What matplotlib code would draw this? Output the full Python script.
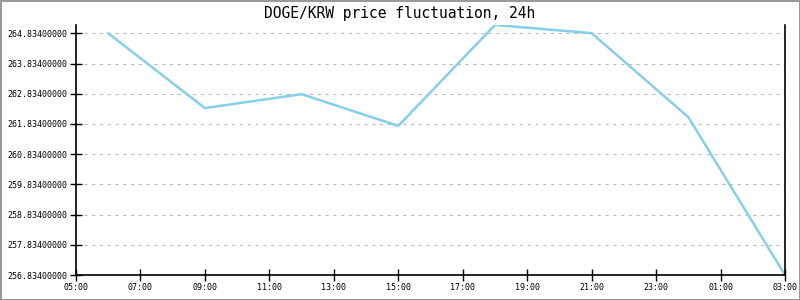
import numpy as np
import pandas as pd
import matplotlib
matplotlib.use("Agg")
import matplotlib.pyplot as plt
import matplotlib.dates as mdates

# data
times = ["2024-01-01 06:00", "2024-01-01 09:00", "2024-01-01 12:00", "2024-01-01 15:00",
         "2024-01-01 18:00", "2024-01-01 21:00", "2024-01-02 00:00", "2024-01-02 03:00"]
prices = [264.834, 262.36, 262.82, 261.77, 265.11, 264.84, 262.06, 256.834]
yticks = [256.834 + i for i in range(9)]
x_start, x_end = "2024-01-01 05:00", "2024-01-02 03:00"

t = pd.to_datetime(times)

fig = plt.figure(figsize=(8, 3), dpi=100)
fig.patch.set_edgecolor("#999999")
fig.patch.set_linewidth(2)
ax = fig.add_axes([0.095, 0.0833, 0.88625, 0.8334])

ax.plot(t, prices, color="#87CEEB", lw=1.8)

ax.set_xlim(pd.Timestamp(x_start), pd.Timestamp(x_end))
ax.set_ylim(256.834, max(prices))
ax.set_yticks(yticks)
ax.set_yticklabels([f"{v:.8f}" for v in yticks])
ax.xaxis.set_major_locator(mdates.HourLocator(byhour=range(1, 24, 2)))
ax.xaxis.set_major_formatter(mdates.DateFormatter("%H:%M"))

mono = "DejaVu Sans Mono"
for lbl in ax.get_xticklabels() + ax.get_yticklabels():
    lbl.set_fontfamily(mono)
    lbl.set_fontsize(6)
ax.tick_params(direction="inout", length=8, width=1, colors="black", pad=2)

ax.grid(axis="y", linestyle=(0, (3, 4)), color="#bbbbbb", lw=0.8)
ax.spines["top"].set_visible(False)
for s in ["left", "bottom", "right"]:
    ax.spines[s].set_linewidth(1.2)

fig.text(0.5, 0.955, "DOGE/KRW price fluctuation, 24h", ha="center", va="center",
         fontfamily=mono, fontsize=10.5)

fig.savefig("out.png", dpi=100, edgecolor=fig.get_edgecolor())
